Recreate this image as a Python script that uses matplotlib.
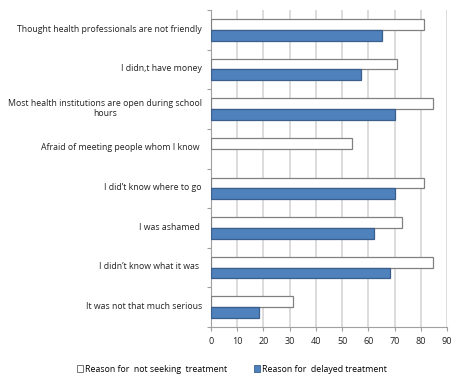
import numpy as np
import matplotlib
matplotlib.use("Agg")
from matplotlib import pyplot as plt
from matplotlib.patches import Patch

# categories, top to bottom as in the chart
categories = [
    "Thought health professionals are not friendly",
    "I didn,t have money",
    "Most health institutions are open during school\nhours",
    "Afraid of meeting people whom I know ",
    "I did\u2019t know where to go",
    "I was ashamed ",
    "I didn\u2019t know what it was ",
    "It was not that much serious",
]
not_seeking = [81.3, 71.0, 84.7, 53.7, 81.3, 72.8, 84.7, 31.2]
delayed = [65.3, 57.1, 70.1, 0, 70.1, 62.1, 68.4, 18.4]
series_names = ["Reason for  not seeking  treatment", "Reason for  delayed treatment"]
x_ticks = list(range(0, 100, 10))

plt.rcParams['font.family'] = ['Open Sans', 'DejaVu Sans']

fig = plt.figure(figsize=(4.61, 3.80), dpi=100)
ax = fig.add_axes([211/461, 1-327/380, 236/461, 317/380])

n = len(categories)
y = np.arange(n)
h = 0.27
ax.barh(y - h/2, not_seeking, height=h, color="white", edgecolor="#808080", linewidth=0.9, zorder=3)
blue_edges = ["#3a5f8c" if v > 0 else "none" for v in delayed]
ax.barh(y + h/2, delayed, height=h, color="#4f81bd", edgecolor=blue_edges, linewidth=0.9, zorder=3)

ax.set_ylim(n - 0.5, -0.5)
ax.set_xlim(0, 90)
ax.set_xticks(x_ticks)
ax.set_xticklabels([str(v) for v in x_ticks], fontsize=6.5, color="#222222")

# category labels on the left, ticks at the boundaries
ax.set_yticks(np.arange(-0.5, n, 1.0))
ax.set_yticklabels([])
for i, lab in enumerate(categories):
    ax.text(-3.5, i - 0.02, lab, ha="right", va="center", fontsize=6.35,
            color="#222222", multialignment="center" if "\n" in lab else "right")

ax.grid(axis="x", color="#d9d9d9", linewidth=1.3, zorder=0)
for s in ["top", "right"]:
    ax.spines[s].set_visible(False)
for s in ["left", "bottom"]:
    ax.spines[s].set_color("#a0a0a0")
    ax.spines[s].set_linewidth(0.8)
ax.tick_params(axis="both", color="#a0a0a0", length=3, width=0.8)
ax.tick_params(axis="x", pad=4)

handles = [Patch(facecolor="white", edgecolor="#606060", linewidth=0.6),
           Patch(facecolor="#4f81bd", edgecolor="#3a5f8c", linewidth=0.6)]
fig.legend(handles, series_names, loc="center", bbox_to_anchor=(0.503, 1-369/380), ncol=2,
           frameon=False, fontsize=6.35, handlelength=0.7, handleheight=0.7,
           handletextpad=0.2, columnspacing=3.0)

fig.savefig("out.png", dpi=100)
